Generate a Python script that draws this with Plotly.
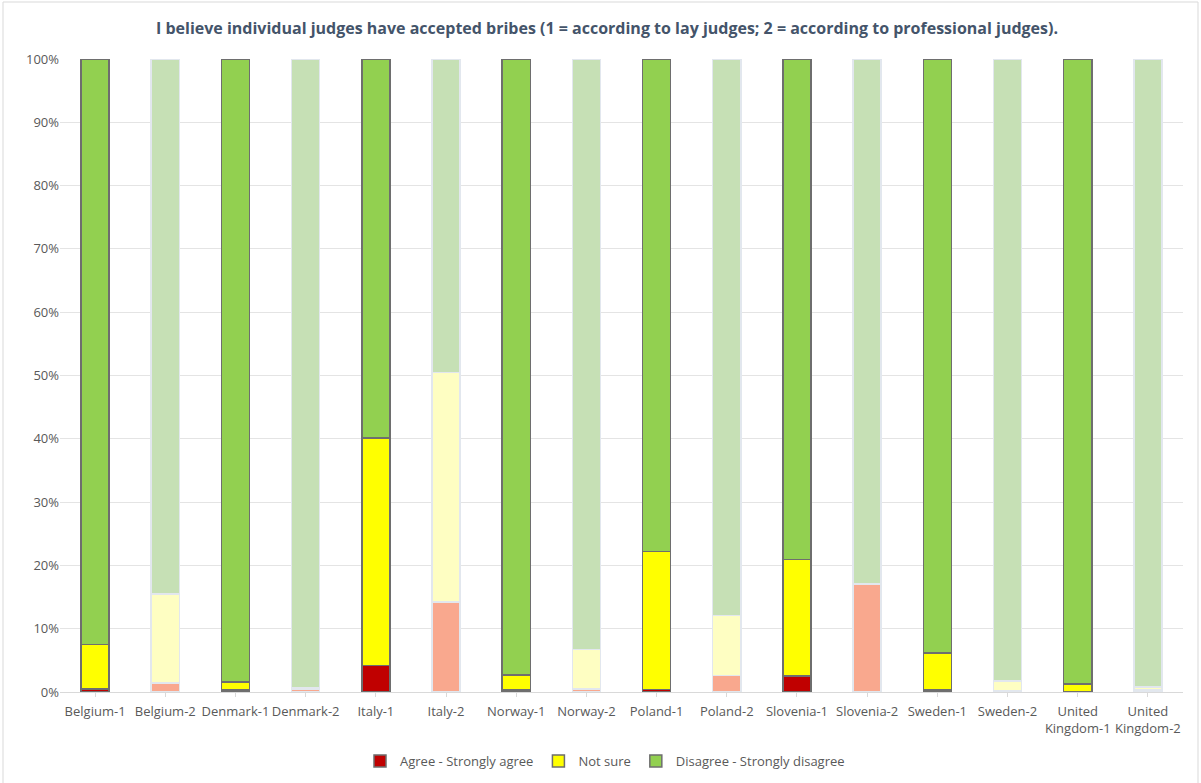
import plotly.graph_objects as go

categories = ["Belgium-1", "Belgium-2", "Denmark-1", "Denmark-2", "Italy-1", "Italy-2",
              "Norway-1", "Norway-2", "Poland-1", "Poland-2", "Slovenia-1", "Slovenia-2",
              "Sweden-1", "Sweden-2", "United Kingdom-1", "United Kingdom-2"]
tick_labels = ["Belgium-1", "Belgium-2", "Denmark-1", "Denmark-2", "Italy-1", "Italy-2",
               "Norway-1", "Norway-2", "Poland-1", "Poland-2", "Slovenia-1", "Slovenia-2",
               "Sweden-1", "Sweden-2", "United<br>Kingdom-1", "United<br>Kingdom-2"]

agree = [0.5, 1.4, 0.3, 0.5, 4.2, 14.2, 0.3, 0.5, 0.4, 2.6, 2.5, 17.0, 0.3, 0.2, 0.0, 0.3]
not_sure = [7.0, 14.1, 1.3, 0.1, 35.9, 36.3, 2.4, 6.2, 21.8, 9.5, 18.4, 0.1, 5.9, 1.5, 1.3, 0.5]
disagree = [round(100 - a - n, 1) for a, n in zip(agree, not_sure)]

series_names = ["Agree - Strongly agree", "Not sure", "Disagree - Strongly disagree"]
strong_colors = ["#C00000", "#FFFF00", "#92D050"]
faded_colors = ["#F9A88E", "#FEFEC2", "#C6E0B5"]

fig = go.Figure()
for name, vals, c1, c2 in zip(series_names, [agree, not_sure, disagree], strong_colors, faded_colors):
    cols = [c1 if i % 2 == 0 else c2 for i in range(len(categories))]
    lcols = ["#6E6E6E" if i % 2 == 0 else "#E2E7EE" for i in range(len(categories))]
    fig.add_trace(go.Bar(
        x=categories, y=vals, name=name,
        marker=dict(color=cols, line=dict(color=lcols, width=1.5)),
    ))

PW, PH = 1123, 633
fig.update_layout(
    barmode="stack",
    bargap=0.6,
    width=1201, height=783,
    paper_bgcolor="white", plot_bgcolor="white",
    margin=dict(l=60, r=18, t=59, b=91, autoexpand=False),
    font=dict(family="Open Sans, sans-serif", size=13, color="#595959"),
    title=dict(
        text="<b>I believe individual judges have accepted bribes (1 = according to lay judges; 2 = according to professional judges).</b>",
        x=(607 - 60) / PW, xref="paper", xanchor="center", y=1 - 28 / 783, yanchor="middle",
        font=dict(size=16, color="#44546A"),
    ),
    legend=dict(orientation="h", x=(605 - 60) / PW, xanchor="center", y=-(761 - 692) / PH, yanchor="middle",
                font=dict(size=13, color="#595959"), traceorder="normal"),
    xaxis=dict(
        tickvals=categories, ticktext=tick_labels, automargin=False,
        showline=True, linecolor="#D9D9D9", ticks="outside", ticklen=4, tickcolor="#D9D9D9",
        tickfont=dict(size=13, color="#595959"), ticklabelstandoff=3,
    ),
    yaxis=dict(
        range=[0, 100], dtick=10, ticksuffix="%", automargin=False,
        showgrid=True, gridcolor="#E4E4E4", zeroline=False, ticklen=0,
        tickfont=dict(size=13, color="#595959"),
    ),
    shapes=[dict(type="rect", xref="paper", yref="paper",
                 x0=(3 - 60) / PW, x1=1 + (1198 - 1183) / PW, y0=-(800 - 692) / PH, y1=1 + 57 / PH,
                 line=dict(color="#D9D9D9", width=1))],
)

fig.write_html("out.html", config={"displayModeBar": False},
               post_script="document.body.style.margin='0';")
